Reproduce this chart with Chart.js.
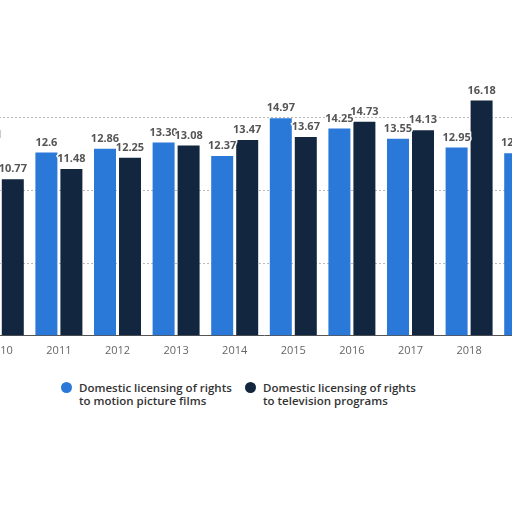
<!DOCTYPE html>
<html>
<head>
<meta charset="utf-8">
<script src="https://cdn.jsdelivr.net/npm/chart.js@4.4.1/dist/chart.umd.min.js"></script>
<style>
  html, body { margin:0; padding:0; width:512px; height:512px; overflow:hidden; background:#fff; }
  #wrap { position:absolute; left:-29px; top:35px; width:586px; height:330px; }
  .leg { position:absolute; font-family:"Open Sans", sans-serif; font-size:11.5px; line-height:13px; color:#333; font-weight:600; }
  .dot { position:absolute; width:11px; height:11px; border-radius:50%; }
</style>
</head>
<body>
<div id="wrap"><canvas id="c"></canvas></div>
<div class="dot" style="left:61px; top:382px; background:#2a78d8;"></div>
<div class="leg" style="left:79px; top:381px;">Domestic licensing of rights<br>to motion picture films</div>
<div class="dot" style="left:245px; top:382px; background:#13263f;"></div>
<div class="leg" style="left:263px; top:381px;">Domestic licensing of rights<br>to television programs</div>
<script>
const years = ["2010","2011","2012","2013","2014","2015","2016","2017","2018","2019"];
const filmValues = [13.11, 12.6, 12.86, 13.30, 12.37, 14.97, 14.25, 13.55, 12.95, 12.55];
const filmLabels = ["13.11","12.6","12.86","13.30","12.37","14.97","14.25","13.55","12.95","12.55"];
const tvValues = [10.77, 11.48, 12.25, 13.08, 13.47, 13.67, 14.73, 14.13, 16.18, 15.2];
const tvLabels = ["10.77","11.48","12.25","13.08","13.47","13.67","14.73","14.13","16.18","15.2"];
const seriesNames = ["Domestic licensing of rights to motion picture films","Domestic licensing of rights to television programs"];

const labelPlugin = {
  id: 'valueLabels',
  afterDatasetsDraw(chart) {
    const ctx = chart.ctx;
    ctx.save();
    ctx.font = 'bold 11px "Open Sans", sans-serif';
    ctx.textAlign = 'center';
    ctx.textBaseline = 'middle';
    chart.data.datasets.forEach((ds, di) => {
      const meta = chart.getDatasetMeta(di);
      meta.data.forEach((bar, i) => {
        const txt = ds.valueLabels[i];
        ctx.lineWidth = 3;
        ctx.strokeStyle = 'rgba(255,255,255,0.9)';
        ctx.strokeText(txt, bar.x, bar.y - 10);
        ctx.fillStyle = '#555';
        ctx.fillText(txt, bar.x, bar.y - 10);
      });
    });
    ctx.restore();
  }
};

new Chart(document.getElementById('c'), {
  type: 'bar',
  data: {
    labels: years,
    datasets: [
      { label: seriesNames[0], data: filmValues, valueLabels: filmLabels, backgroundColor: '#2a78d8' },
      { label: seriesNames[1], data: tvValues, valueLabels: tvLabels, backgroundColor: '#13263f' }
    ]
  },
  options: {
    responsive: true,
    maintainAspectRatio: false,
    animation: false,
    layout: { padding: { top: 10, left: 0, right: 0, bottom: 0 } },
    datasets: { bar: { categoryPercentage: 0.853, barPercentage: 0.88 } },
    plugins: { legend: { display: false }, tooltip: { enabled: false } },
    scales: {
      x: {
        grid: { display: false, drawTicks: false },
        border: { display: true, color: '#555', width: 1 },
        ticks: { color: '#666', padding: 8, font: { family: '"Open Sans", sans-serif', size: 11 } }
      },
      y: {
        display: true,
        min: 0, max: 20,
        ticks: { display: false, stepSize: 5 },
        border: { display: false, dash: [2, 2] },
        grid: {
          drawTicks: false,
          color: (c) => (c.tick && (c.tick.value === 0 || c.tick.value === 20)) ? 'rgba(0,0,0,0)' : '#b8b8b8',
          lineWidth: 1
        }
      }
    }
  },
  plugins: [labelPlugin]
});
</script>
</body>
</html>
